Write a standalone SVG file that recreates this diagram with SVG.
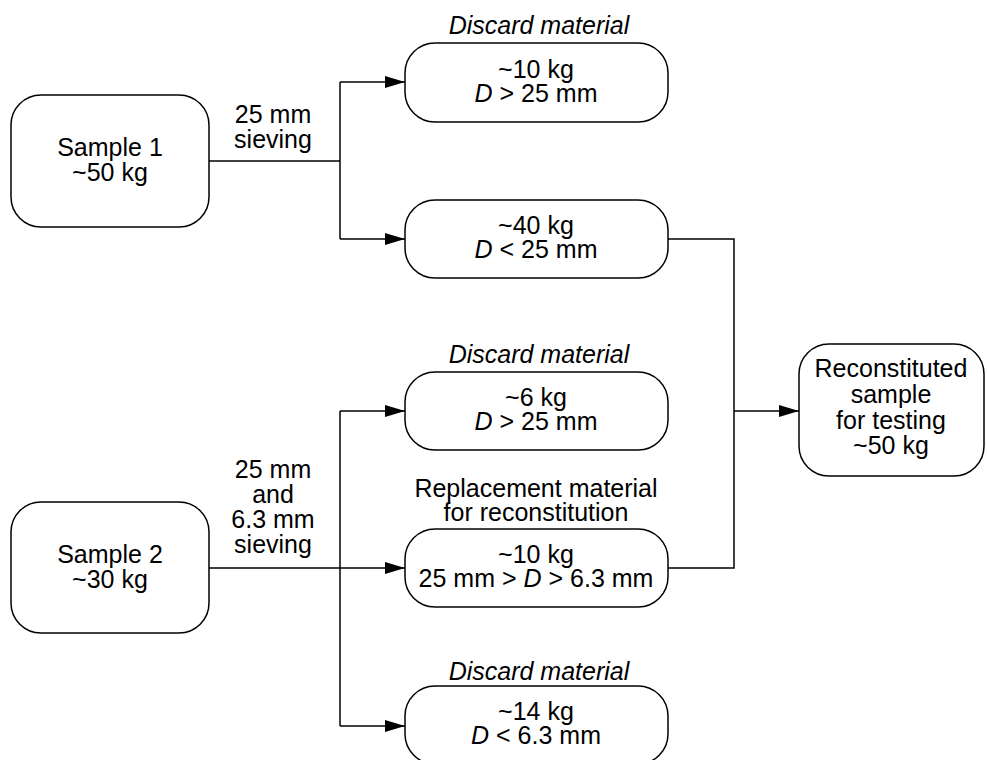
<svg xmlns="http://www.w3.org/2000/svg" width="987" height="760" viewBox="0 0 987 760">
<defs>
<marker id="arr" viewBox="0 0 20 12" refX="20" refY="6" markerWidth="20" markerHeight="12" markerUnits="userSpaceOnUse" orient="auto">
<path d="M0,0 L20,6 L0,12 Z" fill="#000"/>
</marker>
<style>
.box{fill:#fff;stroke:#000;stroke-width:1.5}
.t{font-family:"Liberation Sans",Arial,sans-serif;font-size:25px;text-anchor:middle;fill:#000}
.i{font-style:italic}
.c{fill:none;stroke:#000;stroke-width:1.5}
.a{marker-end:url(#arr)}
</style>
</defs>
<rect width="987" height="760" fill="#fff"/>
<g id="connectors">
<path class="c" d="M209,161 H340"/>
<path class="c" d="M340,82 V239"/>
<path class="c a" d="M340,82 H405"/>
<path class="c a" d="M340,239 H405"/>
<path class="c" d="M209,568 H340"/>
<path class="c" d="M340,411 V726"/>
<path class="c a" d="M340,411 H405"/>
<path class="c a" d="M340,568 H405"/>
<path class="c a" d="M340,726 H405"/>
<path class="c" d="M668,239 H734 V568 H668"/>
<path class="c a" d="M734,411 H799"/>
<text class="t" x="273" y="123">25 mm</text>
<text class="t" x="273" y="148">sieving</text>
<text class="t" x="273" y="478">25 mm</text>
<text class="t" x="273" y="503">and</text>
<text class="t" x="273" y="528">6.3 mm</text>
<text class="t" x="273" y="553">sieving</text>
</g>
<g id="sample1">
<rect class="box" x="11" y="95" width="198" height="132" rx="30" ry="30"/>
<text class="t" x="110" y="156">Sample 1</text>
<text class="t" x="110" y="181">~50 kg</text>
</g>
<g id="sample2">
<rect class="box" x="11" y="502" width="198" height="131" rx="30" ry="30"/>
<text class="t" x="110" y="563">Sample 2</text>
<text class="t" x="110" y="588">~30 kg</text>
</g>
<g id="discard1">
<text class="t i" x="539" y="34">Discard material</text>
<rect class="box" x="405" y="43" width="263" height="79" rx="30" ry="30"/>
<text class="t" x="536" y="78">~10 kg</text>
<text class="t" x="536" y="102"><tspan class="i">D</tspan> &gt; 25 mm</text>
</g>
<g id="pass1">
<rect class="box" x="405" y="200" width="263" height="78" rx="30" ry="30"/>
<text class="t" x="536" y="234">~40 kg</text>
<text class="t" x="536" y="258"><tspan class="i">D</tspan> &lt; 25 mm</text>
</g>
<g id="discard2">
<text class="t i" x="539" y="363">Discard material</text>
<rect class="box" x="405" y="372" width="263" height="78" rx="30" ry="30"/>
<text class="t" x="536" y="406">~6 kg</text>
<text class="t" x="536" y="430"><tspan class="i">D</tspan> &gt; 25 mm</text>
</g>
<g id="replacement">
<text class="t" x="536" y="497">Replacement material</text>
<text class="t" x="536" y="521">for reconstitution</text>
<rect class="box" x="405" y="529" width="263" height="78" rx="30" ry="30"/>
<text class="t" x="536" y="563">~10 kg</text>
<text class="t" x="536" y="587">25 mm &gt; <tspan class="i">D</tspan> &gt; 6.3 mm</text>
</g>
<g id="discard3">
<text class="t i" x="539" y="680">Discard material</text>
<rect class="box" x="405" y="686" width="263" height="78" rx="30" ry="30"/>
<text class="t" x="536" y="720">~14 kg</text>
<text class="t" x="536" y="744"><tspan class="i">D</tspan> &lt; 6.3 mm</text>
</g>
<g id="reconstituted">
<rect class="box" x="799" y="344" width="185" height="132" rx="30" ry="30"/>
<text class="t" x="891" y="377">Reconstituted</text>
<text class="t" x="891" y="403">sample</text>
<text class="t" x="891" y="429">for testing</text>
<text class="t" x="891" y="454">~50 kg</text>
</g>
</svg>
